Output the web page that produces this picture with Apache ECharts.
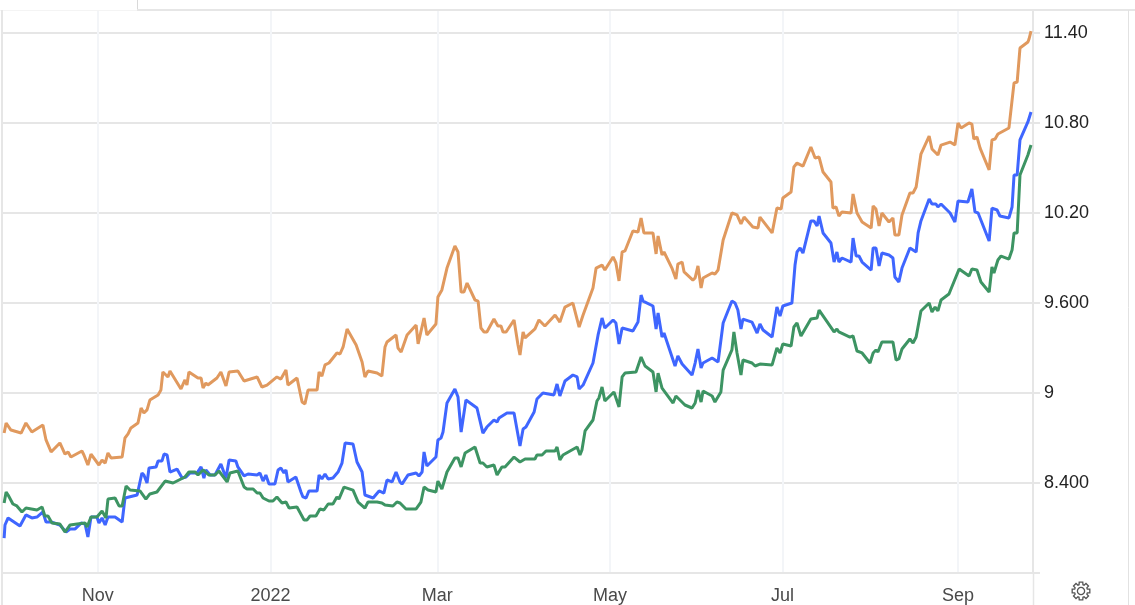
<!DOCTYPE html>
<html>
<head>
<meta charset="utf-8">
<style>html,body{margin:0;padding:0;background:#fff}#c{width:1135px;height:605px}</style>
<script src="https://cdn.jsdelivr.net/npm/echarts@6/dist/echarts.min.js"></script>
</head>
<body>
<div id="c"></div>
<script>
var tickDates = ['2021-11-01','2022-01-01','2022-03-01','2022-05-01','2022-07-01','2022-09-01'];
var tickLabels = ['Nov','2022','Mar','May','Jul','Sep'];
var yTickValues = [8.4,9,9.6,10.2,10.8,11.4];
var yTickLabels = ['8.400','9','9.600','10.20','10.80','11.40'];

// days elapsed since the left edge of the time axis, and the value on that day
var orangeDays = [0.4,1.1,2.8,6.4,8.1,10.2,14.1,15.2,17,20.1,21.9,23,24,27.9,28.6,30,31.1,33.9,35,36.1,37.1,38.2,42.1,43.1,44.2,45.2,47.7,48.8,49.8,50.9,51.9,54.8,55.8,56.5,58.3,59,62.9,64.3,65,65.7,68.9,70,70.7,71.7,72.4,75.6,77,78.8,79.9,83,85.2,89.8,91.5,93.3,94,96.8,98.2,100,100.7,103.9,105.7,106.7,107.8,111,111.7,112.7,113.8,115.2,118,119.1,120.2,121.6,124.8,126.9,127.9,129,132.2,132.9,133.9,135,135.7,138.9,139.6,140.7,142.8,146,146.7,148.8,149.8,153,153.7,155.1,156.9,159.7,160.8,161.9,162.9,164,166.8,167.9,168.9,170,171,173.5,174.9,176,176.7,177.8,180.6,182,182.7,183.8,184.5,188,188.7,189.4,191.5,195.1,196.8,198.6,201.4,203.6,205,205.7,208.5,209.6,211.7,212.7,215.6,216.6,217.7,218.8,219.8,222.6,224.4,225.5,226.5,229.7,230.8,231.5,232.9,233.6,236.4,237.8,238.5,240,240.7,243.8,244.6,245.6,246.7,247.4,250.6,251.6,252.7,254.5,257.6,259.4,260.8,261.9,265,266.8,267.5,271.8,273.5,275,275.6,278.5,279.5,280.6,282.7,285.5,287,288.4,289.8,292.6,293.3,294.4,295.4,296.5,299.7,300.4,301.8,302.5,303.6,306.8,307.5,308.5,309.6,310.6,313.1,314.5,315.2,316.6,317.7,320.5,321.6,322.7,324.4,327.3,328.3,330.4,331.5,334.7,336.4,337.5,338.6,341.4,342.4,343.1,344.2,345.3,348.5,349.5,350.6,351.6,355.5,357.3,358.4,359.4,362.2,362.6,363.3];
var orangeValues = [8.733,8.8,8.753,8.733,8.8,8.74,8.787,8.687,8.607,8.667,8.593,8.607,8.573,8.613,8.587,8.52,8.593,8.52,8.553,8.533,8.6,8.567,8.573,8.7,8.727,8.767,8.8,8.9,8.867,8.887,8.953,8.987,9.02,9.14,9.107,9.147,9.027,9.087,9.053,9.14,9.1,9.1,9.033,9.067,9.053,9.1,9.14,9.047,9.14,9.147,9.08,9.107,9.04,9.053,9.047,9.107,9.093,9.153,9.053,9.1,8.94,8.927,9.02,9.02,9.14,9.113,9.187,9.2,9.267,9.26,9.307,9.427,9.32,9.207,9.107,9.147,9.133,9.14,9.113,9.307,9.34,9.387,9.3,9.273,9.387,9.453,9.327,9.5,9.387,9.46,9.64,9.687,9.833,9.98,9.94,9.673,9.673,9.733,9.62,9.613,9.433,9.407,9.407,9.493,9.447,9.447,9.407,9.407,9.487,9.32,9.253,9.407,9.367,9.427,9.427,9.487,9.447,9.52,9.473,9.573,9.6,9.44,9.52,9.533,9.7,9.833,9.853,9.82,9.907,9.867,9.747,9.94,9.947,10.08,10.073,10.167,10.067,10.067,9.927,10.047,9.92,9.94,9.833,9.76,9.86,9.873,9.807,9.753,9.767,9.847,9.7,9.767,9.8,9.793,9.82,10.02,10.2,10.187,10.127,10.173,10.107,10.1,10.173,10.067,10.233,10.227,10.3,10.34,10.507,10.533,10.513,10.64,10.567,10.573,10.473,10.407,10.233,10.24,10.18,10.207,10.2,10.327,10.2,10.2,10.14,10.1,10.247,10.227,10.113,10.2,10.14,10.167,10.053,10.053,10.187,10.333,10.333,10.373,10.593,10.713,10.627,10.587,10.653,10.673,10.653,10.8,10.767,10.8,10.793,10.693,10.707,10.633,10.487,10.687,10.693,10.727,10.767,11.067,11.073,11.3,11.34,11.36,11.413];

var blueDays = [0.4,0.7,1.8,6,8.1,10.2,12,14.1,15.2,17,20.1,22.3,23.7,25.4,27.6,29,30,31.1,33.2,33.9,35,36.1,37.1,39.6,42.1,43.1,43.8,47.4,49.1,49.8,50.9,51.6,54.1,54.8,56.2,56.9,58,59,61.5,63.3,64.7,66.1,68.6,70,71,71.7,73.2,74.9,77,78.8,79.9,82.3,83,85.2,86.6,89.8,90.8,91.9,92.9,94,96.1,97.2,98.2,99.3,100,100.7,103.5,105.3,106,107.1,108.1,111,111.7,112.7,113.8,114.9,116.6,118.4,119.8,120.9,123.7,125.1,126.9,127.9,130.8,132.9,134.6,135.7,137.5,138.9,140.3,141,143.1,146,147,148.1,148.8,149.8,153,153.7,154.8,155.5,156.9,159.7,160.8,161.9,163.6,167.5,169.6,171,173.5,174.6,175.3,178.1,180.6,182.7,183.8,184.8,187.7,188.7,190.8,194.7,195.8,196.8,198.6,201.4,202.9,203.6,205,208.5,210.3,211.7,212.7,215.6,216.6,217.7,218.8,222.6,224.4,225.5,226.2,229.7,230.8,231.5,232.9,233.6,237.5,238.5,240,243.5,244.6,245.6,246.7,247.4,250.6,252.7,254.5,257.6,258.7,259.7,260.8,261.5,264.7,266.5,267.5,268.6,271.8,273.5,274.6,275.6,278.8,279.9,280.6,281.7,282.7,285.5,286.6,287.7,288.4,289.8,292.6,293.7,294.7,295.4,296.5,299.7,300.4,301.5,302.5,303.6,306.8,307.5,308.5,309.6,310.6,313.1,314.5,315.2,316.6,317.7,320.5,322.7,323.4,324.4,327.3,328.3,329.7,330.4,331.5,334.7,336.4,337.5,341,342.4,343.5,344.6,348.5,349.5,351.3,352.3,355.5,356.6,357.3,358.4,359.4,362.2,363.3];
var blueValues = [8.033,8.12,8.167,8.113,8.187,8.167,8.173,8.207,8.14,8.14,8.12,8.073,8.093,8.093,8.133,8.127,8.04,8.173,8.173,8.133,8.167,8.12,8.173,8.173,8.14,8.3,8.313,8.32,8.467,8.453,8.4,8.5,8.507,8.547,8.547,8.593,8.587,8.473,8.493,8.433,8.44,8.467,8.467,8.507,8.433,8.487,8.453,8.453,8.527,8.433,8.553,8.547,8.507,8.447,8.46,8.453,8.467,8.413,8.453,8.393,8.393,8.487,8.5,8.467,8.487,8.407,8.44,8.34,8.307,8.3,8.347,8.347,8.453,8.427,8.46,8.427,8.433,8.473,8.533,8.667,8.66,8.54,8.473,8.32,8.3,8.347,8.333,8.42,8.407,8.473,8.407,8.393,8.453,8.467,8.447,8.473,8.607,8.513,8.573,8.687,8.7,8.74,8.933,9.027,8.973,8.74,8.953,8.9,8.733,8.773,8.82,8.807,8.833,8.867,8.867,8.647,8.76,8.773,8.873,8.96,9,8.987,9.06,8.98,9.08,9.12,9.107,9.027,9.053,9.2,9.387,9.5,9.433,9.487,9.467,9.327,9.433,9.413,9.473,9.653,9.613,9.58,9.427,9.533,9.373,9.4,9.18,9.247,9.193,9.12,9.2,9.293,9.167,9.2,9.233,9.207,9.467,9.613,9.6,9.553,9.427,9.493,9.473,9.4,9.46,9.42,9.373,9.573,9.513,9.58,9.6,9.853,9.94,9.967,9.933,10.147,10.147,10.113,10.18,10.067,10,9.873,9.94,9.873,9.9,9.873,10.033,9.913,9.913,9.873,9.82,9.967,9.967,9.847,9.933,9.92,9.9,9.773,9.74,9.833,9.967,9.94,10.067,10.147,10.293,10.26,10.26,10.24,10.26,10.2,10.14,10.28,10.273,10.36,10.207,10.2,10.013,10.233,10.22,10.18,10.167,10.24,10.453,10.453,10.687,10.807,10.873];

var greenDays = [0.4,1.1,1.8,3.5,4.9,6.7,8.1,8.8,12,13.8,14.8,15.9,17.3,20.1,21.9,23.7,26.2,29,29.7,31.1,33.2,35,36.4,37.1,39.6,41,42.1,43.5,44.9,48.4,50.5,51.9,54.4,57.3,60.1,60.8,64.3,65,65.7,67.9,68.9,70.7,72.8,74.9,76.3,79.2,80.2,83,85.2,86.2,88.4,89.8,90.8,91.9,94,95.4,96.8,98.6,100,101.1,103.9,106.4,107.4,108.5,110.6,112,113.4,114.9,116.6,118,118.7,120.5,123.7,125.5,127.9,129,132.2,133.9,135,137.8,139.2,140.3,142.4,143.1,146,147.7,148.8,150.2,153,153.7,155.1,156.9,159.7,160.8,161.9,163.3,166.8,168.6,169.6,171,173.5,174.6,176.3,177.4,180.6,182.7,184.5,188,188.7,190.5,191.9,195.1,195.8,196.8,197.9,202.9,203.9,204.6,205.7,208.5,209.9,210.6,211.7,212.7,215.9,216.6,217.7,218.8,219.8,223.7,225.5,226.9,229.7,230.8,231.5,232.9,236.8,237.8,241,243.5,244.6,245.6,246.7,247.4,250.6,251.6,253.7,254.5,257.6,258.3,259.4,260.8,261.5,264.7,265.8,267.5,271.8,273.5,274.6,275.6,278.5,279.5,280.6,282,282.7,285.5,287.7,288.4,293.7,294.7,295.4,299.3,300.4,301.8,303.6,306.4,307.5,308.5,309.2,310.6,314.5,315.6,316.6,317.7,320.5,321.6,322.7,324.4,327.3,328.3,329.4,330.4,331.5,334.3,337.9,341.4,342.4,344.2,345.6,348.5,349.5,350.2,351.6,352.7,355.5,356.6,357.3,358.4,359.4,362.2,363.3];
var greenValues = [8.267,8.34,8.32,8.26,8.247,8.207,8.233,8.22,8.22,8.24,8.18,8.18,8.133,8.127,8.073,8.12,8.127,8.133,8.107,8.173,8.173,8.213,8.167,8.293,8.3,8.247,8.247,8.38,8.353,8.347,8.293,8.327,8.34,8.413,8.4,8.4,8.44,8.427,8.473,8.473,8.453,8.487,8.453,8.453,8.48,8.407,8.467,8.48,8.373,8.36,8.36,8.333,8.333,8.3,8.28,8.28,8.307,8.267,8.273,8.233,8.24,8.153,8.153,8.18,8.18,8.227,8.22,8.26,8.26,8.307,8.293,8.373,8.353,8.273,8.233,8.273,8.273,8.267,8.253,8.247,8.273,8.267,8.227,8.233,8.227,8.273,8.373,8.353,8.34,8.413,8.36,8.473,8.567,8.567,8.507,8.6,8.64,8.533,8.533,8.507,8.52,8.453,8.507,8.507,8.573,8.54,8.56,8.56,8.587,8.587,8.613,8.613,8.64,8.553,8.587,8.64,8.587,8.62,8.747,8.82,8.947,8.967,9.04,8.947,9.007,9,8.907,9.107,9.133,9.14,9.24,9.18,9.14,9.007,9.133,9.033,8.933,8.98,8.92,8.9,8.933,9.02,8.94,9.013,8.98,8.94,9.007,9.153,9.287,9.407,9.267,9.12,9.22,9.2,9.18,9.193,9.187,9.3,9.267,9.327,9.313,9.44,9.467,9.38,9.38,9.493,9.5,9.553,9.407,9.427,9.407,9.373,9.38,9.28,9.267,9.2,9.267,9.287,9.273,9.34,9.34,9.22,9.227,9.293,9.36,9.333,9.373,9.547,9.6,9.54,9.573,9.547,9.62,9.66,9.827,9.78,9.827,9.82,9.74,9.673,9.84,9.8,9.887,9.913,9.893,9.953,10.067,10.067,10.453,10.587,10.653];

var DAY = 86400000;
var axisStart = Date.UTC(2021, 8, 28, 12);
var axisEnd = axisStart + 364 * DAY;
function pairs(days, values) {
  return days.map(function (d, i) { return [axisStart + d * DAY, values[i]]; });
}
function ms(s) { return new Date(s + 'T00:00:00Z').getTime(); }
var tickMs = tickDates.map(ms);

var GRID = '#e6e6e6', VGRID = '#f3f5f8';
function seg(x1, y1, x2, y2, color, w) {
  return { type: 'line', silent: true, shape: { x1: x1, y1: y1, x2: x2, y2: y2 },
           style: { stroke: color, lineWidth: w || 1 } };
}
var gearPts = [];
for (var t = 0; t < 8; t++) {
  var a = t * Math.PI / 4;
  [[-0.30, 6.6], [-0.20, 9], [0.20, 9], [0.30, 6.6]].forEach(function (p) {
    gearPts.push([Math.cos(a + p[0]) * p[1], Math.sin(a + p[0]) * p[1]]);
  });
}

var chart = echarts.init(document.getElementById('c'), null, { renderer: 'canvas' });
chart.setOption({
  animation: false,
  backgroundColor: '#fff',
  grid: { left: 3, right: 102, top: 11, bottom: 32, containLabel: false },
  xAxis: {
    type: 'value', min: axisStart, max: axisEnd, scale: true,
    axisLine: { show: true, onZero: false, lineStyle: { color: GRID, width: 2 } },
    axisTick: { show: false, customValues: tickMs },
    axisLabel: {
      customValues: tickMs, hideOverlap: false, margin: 14,
      fontFamily: 'Liberation Sans', fontSize: 18, color: '#4a4a4a',
      formatter: function (v) { return tickLabels[tickMs.indexOf(+v)] || ''; }
    },
    splitLine: { show: true, lineStyle: { color: VGRID, width: 2 } }
  },
  yAxis: {
    type: 'value', position: 'right', min: 7.8, max: 11.5467, scale: true,
    axisLine: { show: true, onZero: false, lineStyle: { color: GRID, width: 2 } },
    axisTick: { show: true, length: 7, customValues: yTickValues, lineStyle: { color: GRID, width: 2 } },
    axisLabel: {
      customValues: yTickValues, margin: 11, padding: [2, 0, 0, 0],
      fontFamily: 'Liberation Sans', fontSize: 18, color: '#222',
      formatter: function (v) {
        var i = yTickValues.findIndex(function (t) { return Math.abs(t - v) < 1e-6; });
        return i < 0 ? '' : yTickLabels[i];
      }
    },
    splitLine: { show: true, lineStyle: { color: GRID, width: 2 } }
  },
  series: [
    { name: 'Orange', type: 'line', showSymbol: false, data: pairs(orangeDays, orangeValues), lineStyle: { color: '#e0995e', width: 3 }, itemStyle: { color: '#e0995e' } },
    { name: 'Blue', type: 'line', showSymbol: false, data: pairs(blueDays, blueValues), lineStyle: { color: '#3f66ff', width: 3 }, itemStyle: { color: '#3f66ff' } },
    { name: 'Green', type: 'line', showSymbol: false, data: pairs(greenDays, greenValues), lineStyle: { color: '#3d9463', width: 3 }, itemStyle: { color: '#3d9463' } }
  ],
  graphic: [
    seg(0, 10.5, 137, 10.5, '#f4f4f4', 1),
    seg(137.5, 0, 137.5, 10, '#d9d9d9', 1),
    seg(137, 10, 1135, 10, '#e6e6e6', 2),
    seg(2, 10, 2, 605, '#e6e6e6', 2),
    seg(1033.5, 573, 1033.5, 605, '#e6e6e6', 1.5),
    seg(1128.5, 10, 1128.5, 605, '#e2e2e2', 1),
    seg(1033, 573, 1040, 573, '#e6e6e6', 2),
    { type: 'polygon', silent: true, x: 1081, y: 591, shape: { points: gearPts },
      style: { fill: 'none', stroke: '#555', lineWidth: 1.3 } },
    { type: 'circle', silent: true, x: 1081, y: 591, shape: { r: 3.6 },
      style: { fill: 'none', stroke: '#555', lineWidth: 1.3 } }
  ]
});
</script>
</body>
</html>
